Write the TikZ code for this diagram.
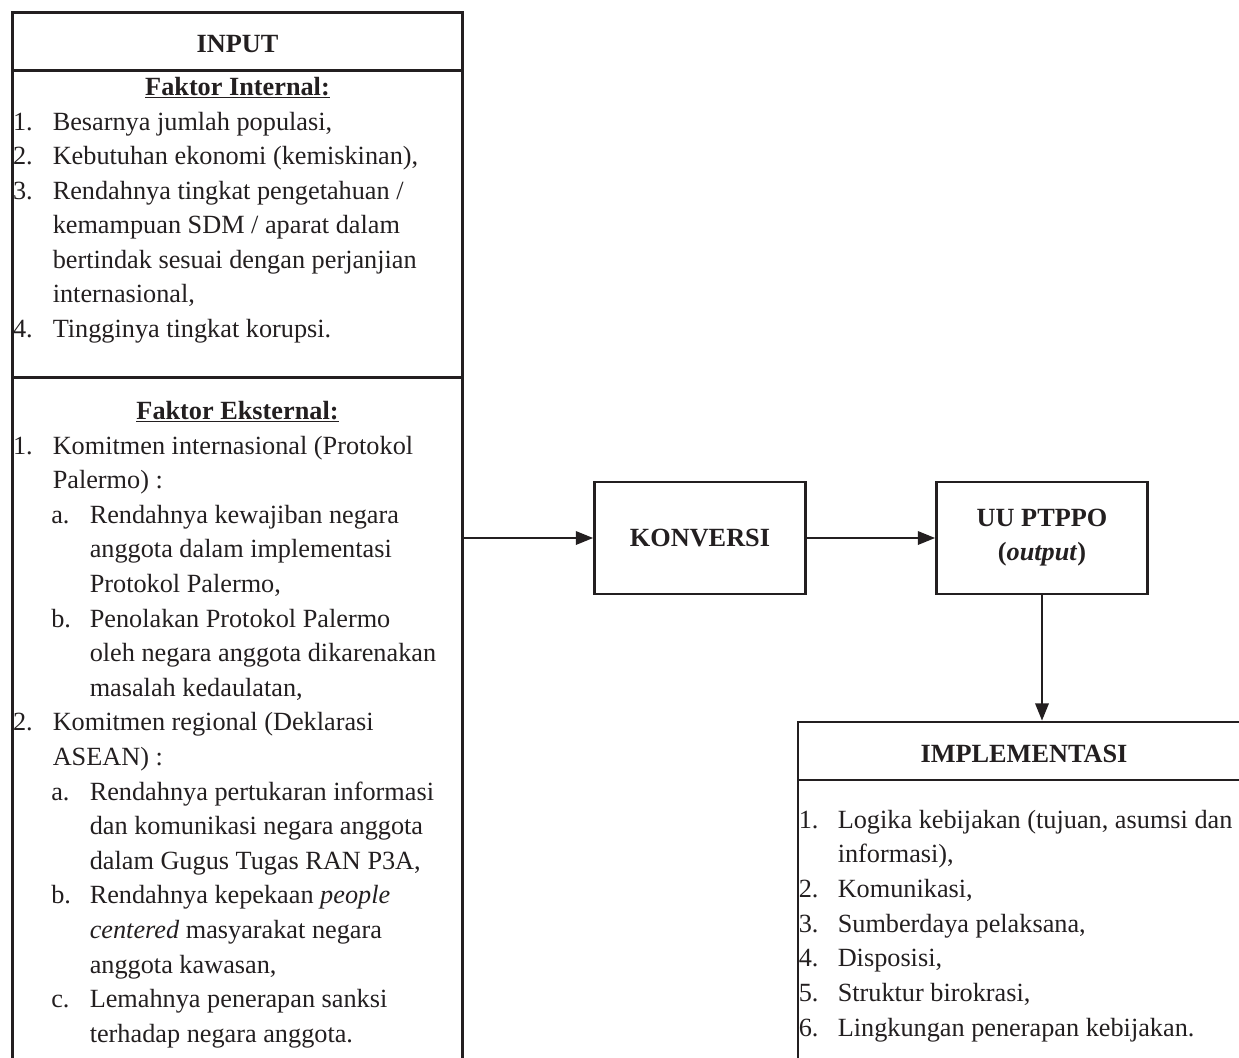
\documentclass[tikz,border=0pt]{standalone}
\usepackage{fontspec}
\setmainfont{Liberation Serif}
\usetikzlibrary{arrows.meta,fit}
\definecolor{ink}{RGB}{35,31,32}
\tikzset{
  txt/.style={anchor=base west, inner sep=0pt, font=\fontsize{19.7}{24}\selectfont, text=ink},
  headtxt/.style={anchor=base, inner sep=0pt, font=\fontsize{19.7}{24}\selectfont\bfseries, text=ink},
  frame/.style={draw=ink, line width=2pt, inner sep=0pt},
  procbox/.style={draw=ink, line width=2pt, minimum width=158.25pt, minimum height=84pt,
    inner sep=0pt, font=\fontsize{19.7}{25.5}\selectfont\bfseries, text=ink, align=center},
  conn/.style={draw=ink, line width=1.8pt, -{Triangle[length=13pt,width=10pt]}},
  divider/.style={draw=ink, line width=2pt},
}
\newcommand\li[4]{\node[txt] (#3) at (#1,#2) {#4};}
\begin{document}
\begin{tikzpicture}[x=0.75pt,y=-0.75pt]
\useasboundingbox (0,0) rectangle (1239,1057);
\clip (0,0) rectangle (1239,1057);

% ---------- INPUT box ----------
\node[frame, fit={(12.3,12.7) (462.7,1085)}] (input) {};
\draw[divider] (12.3,70.7) -- (462.7,70.7);
\draw[divider] (12.3,377.3) -- (462.7,377.3);
\node[headtxt] (inputtitle) at (237.5,52) {INPUT};
\node[headtxt] (fint) at (237.5,95) {\underline{Faktor Internal:}};

\li{12.8}{130}{i1n}{1.}
\li{52.5}{130}{i1t}{Besarnya jumlah populasi,}
\li{12.8}{164.6}{i2n}{2.}
\li{52.5}{164.6}{i2t}{Kebutuhan ekonomi (kemiskinan),}
\li{12.8}{199.1}{i3n}{3.}
\li{52.5}{199.1}{i3t}{Rendahnya tingkat pengetahuan /}
\li{52.5}{233.7}{i3t2}{kemampuan SDM / aparat dalam}
\li{52.5}{268.2}{i3t3}{bertindak sesuai dengan perjanjian}
\li{52.5}{302.8}{i3t4}{internasional,}
\li{12.8}{337.3}{i4n}{4.}
\li{52.5}{337.3}{i4t}{Tingginya tingkat korupsi.}

\node[headtxt] (fext) at (237.5,419) {\underline{Faktor Eksternal:}};
\li{12.8}{454}{e1n}{1.}
\li{52.5}{454}{e1t}{Komitmen internasional (Protokol}
\li{52.5}{488.6}{e1t2}{Palermo) :}
\li{51}{523.2}{e1an}{a.}
\li{89.5}{523.2}{e1at}{Rendahnya kewajiban negara}
\li{89.5}{557.8}{e1at2}{anggota dalam implementasi}
\li{89.5}{592.4}{e1at3}{Protokol Palermo,}
\li{51}{627}{e1bn}{b.}
\li{89.5}{627}{e1bt}{Penolakan Protokol Palermo}
\li{89.5}{661.6}{e1bt2}{oleh negara anggota dikarenakan}
\li{89.5}{696.2}{e1bt3}{masalah kedaulatan,}
\li{12.8}{730.8}{e2n}{2.}
\li{52.5}{730.8}{e2t}{Komitmen regional (Deklarasi}
\li{52.5}{765.4}{e2t2}{ASEAN) :}
\li{51}{800}{e2an}{a.}
\li{89.5}{800}{e2at}{Rendahnya pertukaran informasi}
\li{89.5}{834.6}{e2at2}{dan komunikasi negara anggota}
\li{89.5}{869.2}{e2at3}{dalam Gugus Tugas RAN P3A,}
\li{51}{903.8}{e2bn}{b.}
\li{89.5}{903.8}{e2bt}{Rendahnya kepekaan \textit{people}}
\li{89.5}{938.4}{e2bt2}{\textit{centered} masyarakat negara}
\li{89.5}{973}{e2bt3}{anggota kawasan,}
\li{51}{1007.6}{e2cn}{c.}
\li{89.5}{1007.6}{e2ct}{Lemahnya penerapan sanksi}
\li{89.5}{1042.2}{e2ct2}{terhadap negara anggota.}

% ---------- process boxes ----------
\node[procbox] (konv) at (700,538) {KONVERSI};
\node[procbox] (uu) at (1042,538) {UU PTPPO\\(\textit{output})};

% ---------- IMPLEMENTASI box ----------
\node[frame, fit={(798,722) (1250,1085)}] (impl) {};
\draw[divider] (798,780) -- (1250,780);
\node[headtxt] (impltitle) at (1024,762) {IMPLEMENTASI};
\li{798.5}{828}{m1n}{1.}
\li{837.5}{828}{m1t}{Logika kebijakan (tujuan, asumsi dan}
\li{837.5}{862.7}{m1t2}{informasi),}
\li{798.5}{897.4}{m2n}{2.}
\li{837.5}{897.4}{m2t}{Komunikasi,}
\li{798.5}{932.1}{m3n}{3.}
\li{837.5}{932.1}{m3t}{Sumberdaya pelaksana,}
\li{798.5}{966.8}{m4n}{4.}
\li{837.5}{966.8}{m4t}{Disposisi,}
\li{798.5}{1001.5}{m5n}{5.}
\li{837.5}{1001.5}{m5t}{Struktur birokrasi,}
\li{798.5}{1036.2}{m6n}{6.}
\li{837.5}{1036.2}{m6t}{Lingkungan penerapan kebijakan.}

% ---------- connectors ----------
\draw[conn] (konv.west -| input.east) -- (konv.west);
\draw[conn] (konv.east) -- (uu.west);
\draw[conn] (uu.south) -- (uu.south |- impl.north);
\end{tikzpicture}
\end{document}
